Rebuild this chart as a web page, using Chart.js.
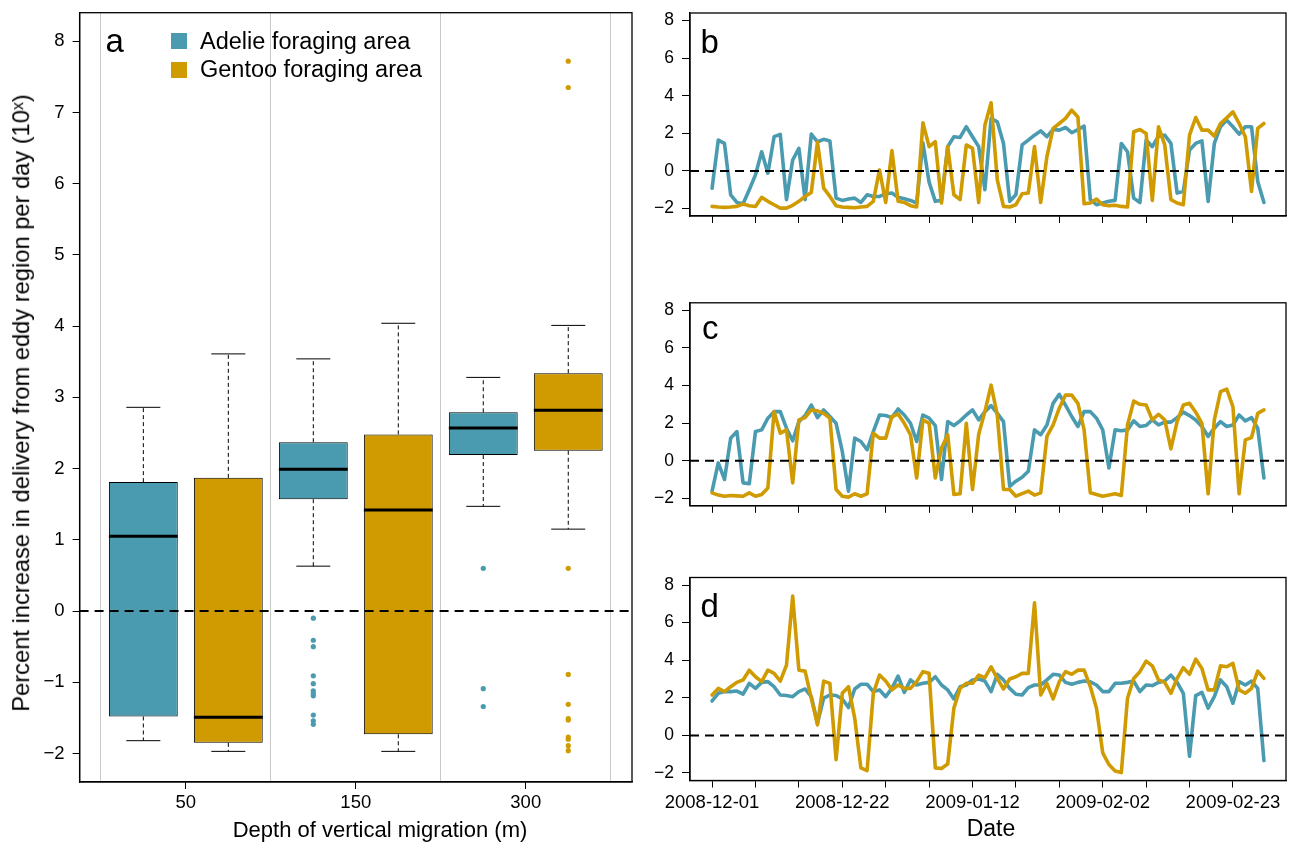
<!DOCTYPE html>
<html><head><meta charset="utf-8">
<script src="https://cdn.jsdelivr.net/npm/chart.js@4.4.1/dist/chart.umd.min.js"></script>
<style>
html,body{margin:0;padding:0;background:#fff;}
body{width:1289px;height:842px;position:relative;overflow:hidden;font-family:"Liberation Sans",Arial,Helvetica,sans-serif;color:#000;}
canvas{position:absolute;}
.txt{position:absolute;white-space:nowrap;line-height:1;z-index:5;}
.sq{position:absolute;width:16px;height:16px;z-index:5;}
</style></head><body>
<canvas id="ca" width="660" height="842" style="left:0;top:0"></canvas>
<canvas id="cb" width="649" height="290" style="left:640px;top:0"></canvas>
<canvas id="cc" width="649" height="285" style="left:640px;top:290px"></canvas>
<canvas id="cd" width="649" height="267" style="left:640px;top:575px"></canvas>

<div class="txt" style="left:105.5px;top:24.1px;font-size:33px">a</div>
<div class="txt" style="left:700.6px;top:24.8px;font-size:33px">b</div>
<div class="txt" style="left:702px;top:311.1px;font-size:33px">c</div>
<div class="txt" style="left:700.6px;top:588.8px;font-size:33px">d</div>

<div class="sq" style="left:171px;top:33px;background:#4a9bb0"></div>
<div class="sq" style="left:171px;top:62px;background:#cf9b00"></div>
<div class="txt" style="left:200px;top:29.5px;font-size:23.5px">Adelie foraging area</div>
<div class="txt" style="left:200px;top:58px;font-size:23.5px">Gentoo foraging area</div>

<div class="txt" style="left:21.5px;top:403px;font-size:23.7px;transform:translate(-50%,-50%) rotate(-90deg);">Percent increase in delivery from eddy region per day (10ˣ)</div>
<div class="txt" style="left:380px;top:819px;font-size:22px;transform:translateX(-50%);">Depth of vertical migration (m)</div>
<div class="txt" style="left:991px;top:816.5px;font-size:23px;transform:translateX(-50%);">Date</div>

<script>
// ---------------- Panel a data (box plots) ----------------
const depthCategories   = ['50', '150', '300'];
const adelieWhiskerLow  = [-1.82, 0.63, 1.47];
const adelieQ1          = [-1.48, 1.57, 2.19];
const adelieMedian      = [1.05, 1.99, 2.57];
const adelieQ3          = [1.81, 2.37, 2.79];
const adelieWhiskerHigh = [2.86, 3.54, 3.28];
const gentooWhiskerLow  = [-1.97, -1.97, 1.15];
const gentooQ1          = [-1.85, -1.73, 2.25];
const gentooMedian      = [-1.49, 1.42, 2.82];
const gentooQ3          = [1.87, 2.48, 3.34];
const gentooWhiskerHigh = [3.61, 4.04, 4.01];
const adelieOutliers = [
  [],
  [-0.10, -0.41, -0.50, -0.91, -1.02, -1.12, -1.16, -1.19, -1.46, -1.54, -1.59],
  [0.60, -1.09, -1.34]
];
const gentooOutliers = [
  [],
  [],
  [7.72, 7.35, 0.60, -0.89, -1.31, -1.51, -1.53, -1.77, -1.80, -1.89, -1.96]
];
const boxYTicks = [-2, -1, 0, 1, 2, 3, 4, 5, 6, 7, 8];

// ---------------- Panels b-d data (daily series) ----------------
const seriesStartDate = '2008-12-01';
const dateTickDays   = [0, 7, 14, 21, 28, 35, 42, 49, 56, 63, 70, 77, 84];
const dateTickLabels = ['2008-12-01', '', '', '2008-12-22', '', '', '2009-01-12', '', '', '2009-02-02', '', '', '2009-02-23'];
const seriesYTicks = [-2, 0, 2, 4, 6, 8];

const adelieB = [-0.92,1.64,1.46,-1.27,-1.68,-1.75,-1.0,-0.21,1.02,-0.12,
  1.82,1.94,-1.53,0.58,1.2,-1.53,1.96,1.55,1.68,1.59,
  -1.45,-1.57,-1.5,-1.45,-1.68,-1.27,-1.36,-1.36,-1.22,-1.18,
  -1.4,-1.48,-1.57,-1.71,1.5,-0.6,-1.62,-1.57,1.29,1.82,
  1.78,2.35,1.82,1.29,-1.0,2.79,2.61,1.46,-1.62,-1.27,
  1.38,1.64,1.9,2.13,1.82,2.2,2.17,2.31,2.03,2.2,
  2.38,-1.53,-1.8,-1.71,-1.62,-1.57,1.46,1.02,-1.45,-1.68,
  1.64,1.29,1.85,1.9,1.46,-1.18,-1.09,1.11,1.46,1.6,
  -1.62,1.46,2.35,2.7,2.35,1.96,2.35,2.35,-0.56,-1.68];
const gentooB = [-1.89,-1.92,-1.94,-1.92,-1.89,-1.76,-1.85,-1.89,-1.41,-1.62,
  -1.8,-1.98,-1.98,-1.83,-1.62,-1.36,-1.15,1.52,-0.92,-1.36,
  -1.85,-1.92,-1.94,-1.96,-1.92,-1.89,-1.62,0.05,-1.68,1.08,
  -1.62,-1.68,-1.85,-1.92,2.56,1.29,1.55,-1.71,1.29,-1.27,
  -1.53,1.38,1.2,-1.68,2.43,3.62,-0.48,-1.89,-1.92,-1.8,
  -1.22,-1.18,1.29,-1.68,0.76,2.26,2.52,2.79,3.23,2.87,
  -1.75,-1.71,-1.5,-1.8,-1.85,-1.83,-1.89,-1.92,2.08,2.2,
  1.99,-1.57,2.35,1.38,-1.53,-1.71,-1.8,1.9,2.84,2.17,
  2.17,1.85,2.52,2.82,3.14,2.52,1.82,-1.09,2.26,2.52];
const adelieC = [-1.62,-0.12,-1.0,1.2,1.55,-1.18,-1.23,1.55,1.64,2.26,
  2.61,2.61,1.73,1.06,2.08,2.4,2.96,2.29,2.7,2.35,
  1.99,0.49,-1.62,1.2,1.02,0.58,1.55,2.43,2.4,2.29,
  2.75,2.43,1.99,1.02,2.43,2.26,1.87,-1.0,2.08,1.87,
  2.12,2.43,2.7,2.17,2.61,2.93,2.52,2.08,-1.36,-1.09,
  -0.88,-0.56,1.64,1.38,1.9,3.05,3.53,2.96,2.35,1.82,
  2.61,2.61,2.26,1.64,-0.39,1.64,1.59,1.64,2.12,1.82,
  1.87,2.17,1.9,2.05,2.05,2.29,2.58,2.4,2.17,1.82,
  1.29,1.73,2.08,1.82,1.9,2.43,2.12,2.29,1.73,-0.92];
const gentooC = [-1.71,-1.83,-1.89,-1.85,-1.87,-1.89,-1.71,-1.89,-1.8,-1.45,
  2.61,1.46,1.64,-1.18,2.17,2.29,2.7,2.65,2.52,2.26,
  -1.53,-1.89,-1.94,-1.76,-1.89,-1.76,1.46,1.2,1.2,2.35,
  2.48,1.99,1.38,-0.92,2.17,1.99,-0.92,0.67,1.38,-1.8,
  -1.76,1.99,-1.53,1.41,2.61,4.02,2.43,-1.53,-1.53,-1.89,
  -1.75,-1.62,-1.83,-1.71,1.29,1.9,2.79,3.49,3.49,3.05,
  1.64,-1.71,-1.8,-1.89,-1.83,-1.76,-1.85,1.9,3.17,3.0,
  2.96,2.17,2.47,2.17,0.63,2.08,2.96,3.05,2.58,1.99,
  -1.76,2.17,3.67,3.81,2.87,-1.76,1.11,1.23,2.52,2.7];
const adelieD = [1.83,2.24,2.33,2.33,2.36,2.19,2.77,2.5,2.82,2.86,
  2.59,2.15,2.12,2.06,2.33,2.47,2.06,0.65,1.98,2.15,
  2.12,1.94,1.48,2.47,2.72,2.72,2.33,2.42,2.06,2.5,
  3.15,2.29,2.95,2.68,2.77,2.82,3.12,2.68,2.42,1.94,
  2.59,2.68,2.95,3.0,2.89,2.33,3.25,2.95,2.5,2.19,
  2.15,2.54,2.68,2.68,2.95,3.25,3.21,2.82,2.72,2.82,
  2.89,2.85,2.68,2.33,2.33,2.77,2.77,2.82,2.89,2.33,
  2.68,2.65,2.82,2.89,3.21,2.82,2.24,-1.11,2.12,2.29,
  1.45,2.06,2.95,2.59,1.71,2.86,2.68,2.89,2.5,-1.34];
const gentooD = [2.15,2.5,2.33,2.59,2.82,2.95,3.47,3.12,2.86,3.47,
  3.3,2.89,3.74,7.41,3.47,3.42,1.98,0.56,2.89,2.77,
  -1.29,2.24,2.59,0.92,-1.73,-1.87,2.24,3.21,2.89,2.42,
  2.68,2.5,2.5,2.86,3.39,3.3,-1.73,-1.76,-1.52,1.45,
  2.5,2.77,2.77,3.21,3.07,3.65,3.03,2.47,3.0,3.12,
  3.3,3.3,7.05,2.15,2.77,1.94,2.86,3.39,3.25,3.47,
  3.47,2.6,1.45,-0.93,-1.55,-1.9,-1.98,1.98,3.03,3.39,
  3.95,3.7,2.95,2.82,2.24,3.03,3.6,3.25,4.06,3.56,
  2.42,2.42,3.7,3.65,3.83,2.42,2.24,2.5,3.42,3.03];

// ---------------- styling ----------------
const TEAL = '#4a9bb0';
const GOLD = '#cf9b00';
const FONT = '"Liberation Sans", Arial, Helvetica, sans-serif';
const minusFmt = v => (v < 0 ? '\u2212' + Math.abs(v) : String(v));
const noPad = s => { s.paddingTop = 0; s.paddingBottom = 0; s.paddingLeft = 0; s.paddingRight = 0; };

const framePlugin = {
  id: 'frame',
  afterDatasetsDraw(chart, args, opts) {
    const {ctx, chartArea: a} = chart;
    const y = chart.scales.y.getPixelForValue(opts.refValue);
    ctx.save();
    ctx.beginPath(); ctx.rect(a.left, a.top, a.right - a.left, a.bottom - a.top); ctx.clip();
    ctx.strokeStyle = '#000'; ctx.lineWidth = 2; ctx.setLineDash([9, 6]);
    ctx.beginPath(); ctx.moveTo(a.left, y); ctx.lineTo(a.right, y); ctx.stroke();
    ctx.restore();
    ctx.save();
    ctx.strokeStyle = '#000'; ctx.lineWidth = 1.3;
    ctx.strokeRect(a.left, a.top, a.right - a.left, a.bottom - a.top);
    ctx.restore();
  }
};

// ---------------- Panel a ----------------
(function () {
  const boxData = [], boxColors = [];
  const medians = [], whiskers = [], capsHigh = [], capsLow = [], outliers = [], outlierColors = [];
  const halfBox = 0.405, halfCap = 0.2;
  const groups = [
    {lo: adelieWhiskerLow, q1: adelieQ1, med: adelieMedian, q3: adelieQ3, hi: adelieWhiskerHigh, out: adelieOutliers, color: TEAL, off: 1},
    {lo: gentooWhiskerLow, q1: gentooQ1, med: gentooMedian, q3: gentooQ3, hi: gentooWhiskerHigh, out: gentooOutliers, color: GOLD, off: 2}
  ];
  const entries = [];
  depthCategories.forEach((c, k) => groups.forEach(g => entries.push({g, k, p: 2 * k + g.off})));
  entries.sort((a, b) => a.p - b.p);
  entries.forEach(({g, k, p}) => {
    boxData.push({x: p, y: [g.q1[k], g.q3[k]]});
    boxColors.push(g.color);
    medians.push({x: p - halfBox, y: g.med[k]}, {x: p + halfBox, y: g.med[k]}, {x: p + 0.45, y: null});
    whiskers.push({x: p, y: g.q3[k]}, {x: p, y: g.hi[k]}, {x: p, y: null},
                  {x: p, y: g.q1[k]}, {x: p, y: g.lo[k]}, {x: p, y: null});
    capsHigh.push({x: p - halfCap, y: g.hi[k]}, {x: p + halfCap, y: g.hi[k]}, {x: p + 0.45, y: null});
    capsLow.push({x: p - halfCap, y: g.lo[k]}, {x: p + halfCap, y: g.lo[k]}, {x: p + 0.45, y: null});
    g.out[k].forEach(v => { outliers.push({x: p, y: v}); outlierColors.push(g.color); });
  });
  const catTicks = depthCategories.map((c, k) => 2 * k + 1.5);
  const sepTicks = [0.5, 2.5, 4.5, 6.5];

  new Chart(document.getElementById('ca'), {
    type: 'bar',
    data: {
      datasets: [
        {type: 'bar', data: boxData, backgroundColor: boxColors, borderColor: '#000', borderWidth: 1,
         borderSkipped: false, categoryPercentage: 1.0, barPercentage: 0.81, order: 5},
        {type: 'line', data: whiskers, borderColor: '#000', borderWidth: 1, borderDash: [4, 3],
         pointRadius: 0, spanGaps: false, order: 4},
        {type: 'line', data: capsHigh, borderColor: '#000', borderWidth: 1, pointRadius: 0, spanGaps: false, order: 4},
        {type: 'line', data: capsLow, borderColor: '#000', borderWidth: 1, pointRadius: 0, spanGaps: false, order: 4},
        {type: 'line', data: medians, borderColor: '#000', borderWidth: 3, pointRadius: 0, spanGaps: false, order: 1},
        {type: 'line', data: outliers, showLine: false, pointRadius: 2.6, pointBorderWidth: 0,
         pointBackgroundColor: outlierColors, pointBorderColor: outlierColors, order: 1}
      ]
    },
    options: {
      responsive: false, animation: false, devicePixelRatio: 1,
      layout: {padding: {left: 0, top: 12.7, right: 28, bottom: 0}},
      plugins: {legend: {display: false}, tooltip: {enabled: false}, frame: {refValue: 0}},
      scales: {
        x: {
          type: 'linear', position: 'bottom', min: 0.25, max: 6.75, offset: false,
          afterBuildTicks: s => { s.ticks = catTicks.map(v => ({value: v})); },
          afterFit: s => { s.height = 60; noPad(s); },
          ticks: {autoSkip: false, maxRotation: 0, padding: 3, color: '#000',
                  font: {family: FONT, size: 18.5},
                  callback: (v, i) => depthCategories[i]},
          grid: {offset: false, drawOnChartArea: false, drawTicks: true, tickLength: 7, tickColor: '#000', tickWidth: 1},
          border: {display: true, color: '#000', width: 1.3}
        },
        xg: {
          type: 'linear', position: 'bottom', min: 0.25, max: 6.75, offset: false,
          afterBuildTicks: s => { s.ticks = sepTicks.map(v => ({value: v})); },
          afterFit: s => { s.height = 0; noPad(s); },
          ticks: {display: false},
          grid: {offset: false, drawOnChartArea: true, drawTicks: false, color: '#c9c9c9', lineWidth: 1},
          border: {display: false}
        },
        y: {
          type: 'linear', min: -2.4, max: 8.4,
          afterBuildTicks: s => { s.ticks = boxYTicks.map(v => ({value: v})); },
          afterFit: s => { s.width = 79.6; noPad(s); },
          ticks: {autoSkip: false, padding: 8, color: '#000', font: {family: FONT, size: 18.5},
                  callback: v => minusFmt(v)},
          grid: {drawOnChartArea: false, drawTicks: true, tickLength: 7, tickColor: '#000', tickWidth: 1},
          border: {display: true, color: '#000', width: 1.3}
        }
      }
    },
    plugins: [framePlugin]
  });
})();

// ---------------- Panels b, c, d ----------------
const seriesDays = adelieB.map((v, i) => i);
function makeSeriesChart(id, adelie, gentoo, showDateLabels, padTop, axisHeight) {
  const toPts = arr => arr.map((v, i) => ({x: seriesDays[i], y: v}));
  new Chart(document.getElementById(id), {
    type: 'line',
    data: {
      datasets: [
        {data: toPts(gentoo), borderColor: GOLD, borderWidth: 3.6, pointRadius: 0, tension: 0,
         borderJoinStyle: 'round', borderCapStyle: 'round', order: 0},
        {data: toPts(adelie), borderColor: TEAL, borderWidth: 3.6, pointRadius: 0, tension: 0,
         borderJoinStyle: 'round', borderCapStyle: 'round', order: 1}
      ]
    },
    options: {
      responsive: false, animation: false, devicePixelRatio: 1,
      layout: {padding: {left: 0, top: padTop, right: 3, bottom: 0}},
      plugins: {legend: {display: false}, tooltip: {enabled: false}, frame: {refValue: 0}},
      scales: {
        x: {
          type: 'linear', min: -3.56, max: 92.56, offset: false,
          afterBuildTicks: s => { s.ticks = dateTickDays.map(v => ({value: v})); },
          afterFit: s => { s.height = axisHeight; noPad(s); },
          ticks: {autoSkip: false, maxRotation: 0, padding: 4, color: '#000',
                  font: {family: FONT, size: 18.5},
                  callback: (v, i) => (showDateLabels ? dateTickLabels[i] : '')},
          grid: {offset: false, drawOnChartArea: false, drawTicks: true, tickLength: 7, tickColor: '#000', tickWidth: 1},
          border: {display: true, color: '#000', width: 1.3}
        },
        y: {
          type: 'linear', min: -2.4, max: 8.4,
          afterBuildTicks: s => { s.ticks = seriesYTicks.map(v => ({value: v})); },
          afterFit: s => { s.width = 50; noPad(s); },
          ticks: {autoSkip: false, padding: 8, color: '#000', font: {family: FONT, size: 17.5},
                  callback: v => minusFmt(v)},
          grid: {drawOnChartArea: false, drawTicks: true, tickLength: 8, tickColor: '#000', tickWidth: 1},
          border: {display: true, color: '#000', width: 1.3}
        }
      }
    },
    plugins: [framePlugin]
  });
}
makeSeriesChart('cb', adelieB, gentooB, false, 13, 290 - 216);
makeSeriesChart('cc', adelieC, gentooC, false, 12.8, 285 - 215.8);
makeSeriesChart('cd', adelieD, gentooD, true, 2.5, 267 - 205.5);
</script>
</body></html>
